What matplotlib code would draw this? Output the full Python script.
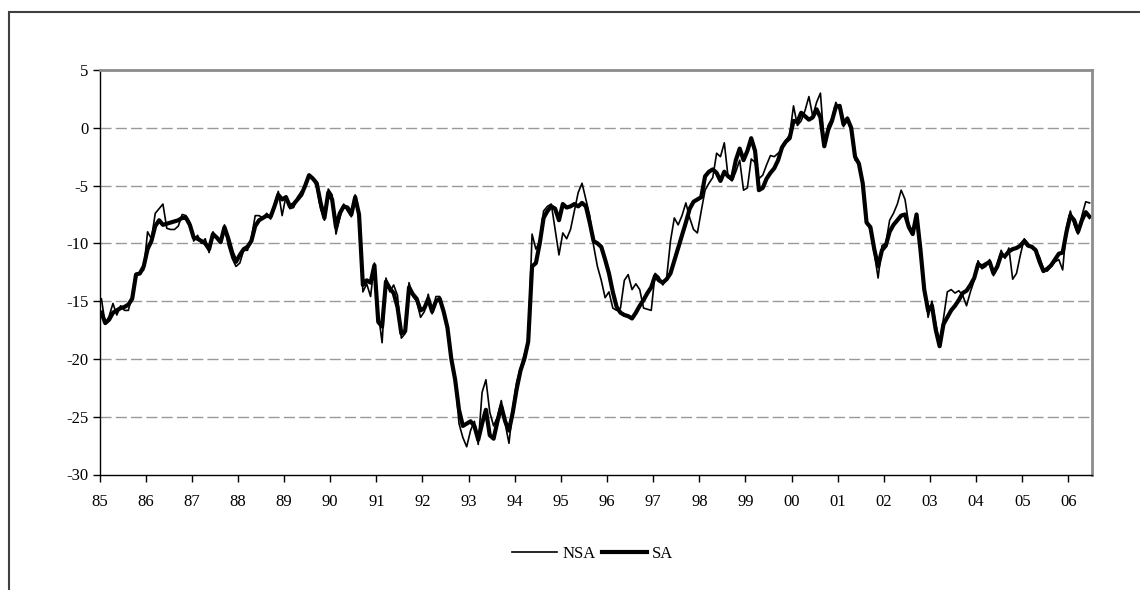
import numpy as np
import matplotlib
matplotlib.use("Agg")
import matplotlib.pyplot as plt
from matplotlib.patches import Rectangle

plt.rcParams["font.family"] = ["Liberation Serif", "DejaVu Serif"]
plt.rcParams["axes.unicode_minus"] = False

# monthly values, Jan 1985 .. Jun 2006
sa_by_year = {
    1985: [-16.0, -16.9, -16.6, -16.0, -15.8, -15.6, -15.5, -15.3, -14.8, -12.7, -12.6, -12.0],
    1986: [-10.5, -9.8, -8.5, -8.0, -8.4, -8.3, -8.2, -8.1, -8.0, -7.8, -7.8, -8.4],
    1987: [-9.5, -9.6, -9.8, -10.0, -10.5, -9.2, -9.5, -9.9, -8.6, -9.6, -10.8, -11.6],
    1988: [-11.0, -10.5, -10.3, -9.8, -8.5, -8.0, -7.8, -7.6, -7.7, -6.8, -5.8, -6.2],
    1989: [-6.0, -6.8, -6.6, -6.2, -5.8, -5.0, -4.1, -4.4, -4.8, -6.5, -7.8, -5.6],
    1990: [-6.2, -8.6, -7.4, -6.8, -6.9, -7.5, -6.0, -7.5, -13.6, -13.2, -13.4, -11.9],
    1991: [-16.8, -17.2, -13.3, -13.9, -14.3, -15.5, -17.8, -17.6, -13.8, -14.4, -14.8, -15.8],
    1992: [-15.6, -14.8, -15.9, -15.0, -14.8, -15.9, -17.3, -20.0, -21.8, -24.4, -25.8, -25.6],
    1993: [-25.4, -25.8, -27.0, -25.6, -24.4, -26.6, -26.9, -25.4, -24.1, -25.4, -26.2, -24.6],
    1994: [-22.6, -21.0, -20.0, -18.5, -12.0, -11.7, -10.0, -7.8, -7.2, -6.8, -7.0, -8.0],
    1995: [-6.6, -6.9, -6.8, -6.6, -6.8, -6.5, -6.8, -8.2, -9.8, -10.0, -10.3, -11.4],
    1996: [-12.6, -14.2, -15.5, -16.0, -16.2, -16.3, -16.5, -16.0, -15.4, -14.9, -14.3, -13.8],
    1997: [-12.8, -13.2, -13.4, -13.1, -12.6, -11.5, -10.4, -9.3, -8.2, -7.0, -6.4, -6.2],
    1998: [-6.0, -4.2, -3.8, -3.6, -3.9, -4.6, -3.8, -4.2, -4.4, -2.8, -1.8, -2.8],
    1999: [-2.0, -0.9, -2.0, -5.4, -5.2, -4.4, -3.9, -3.5, -2.8, -1.7, -1.2, -0.9],
    2000: [0.6, 0.5, 1.3, 1.0, 0.7, 0.9, 1.6, 0.9, -1.6, -0.2, 0.6, 1.8],
    2001: [1.9, 0.3, 0.8, 0.0, -2.5, -3.1, -4.8, -8.2, -8.6, -10.5, -12.0, -10.6],
    2002: [-10.2, -9.0, -8.4, -8.0, -7.6, -7.5, -8.6, -9.2, -7.5, -10.5, -14.0, -15.8],
    2003: [-15.4, -17.5, -18.9, -17.0, -16.4, -15.8, -15.4, -14.9, -14.3, -14.1, -13.6, -13.0],
    2004: [-11.8, -12.0, -11.8, -11.6, -12.6, -12.0, -11.0, -11.1, -10.7, -10.5, -10.4, -10.2],
    2005: [-9.8, -10.2, -10.3, -10.6, -11.6, -12.4, -12.2, -11.9, -11.4, -10.9, -10.8, -9.0],
    2006: [-7.6, -8.0, -9.0, -8.0, -7.3, -7.7],
}
nsa_by_year = {
    1985: [-14.8, -17.0, -16.3, -15.2, -16.2, -15.4, -15.8, -15.8, -14.5, -12.6, -12.6, -12.3],
    1986: [-9.0, -9.6, -7.4, -7.0, -6.6, -8.7, -8.8, -8.8, -8.5, -7.5, -7.6, -8.2],
    1987: [-9.8, -9.3, -10.0, -9.6, -10.8, -9.0, -9.6, -9.8, -8.4, -10.2, -11.3, -12.0],
    1988: [-11.7, -10.6, -10.6, -9.5, -7.6, -7.6, -7.8, -7.4, -7.9, -6.6, -5.5, -7.6],
    1989: [-5.9, -7.0, -6.9, -6.0, -5.5, -5.2, -4.2, -4.3, -5.2, -7.0, -8.0, -5.3],
    1990: [-5.8, -9.2, -7.8, -6.6, -7.2, -7.7, -5.8, -7.6, -14.2, -13.5, -14.6, -11.7],
    1991: [-16.0, -18.6, -13.0, -14.2, -13.6, -14.5, -18.2, -17.8, -13.4, -14.6, -15.0, -16.4],
    1992: [-15.9, -14.4, -16.1, -14.6, -14.6, -15.8, -17.2, -19.8, -21.6, -25.6, -26.8, -27.6],
    1993: [-26.2, -25.4, -27.4, -22.9, -21.8, -24.6, -25.8, -25.0, -23.6, -25.6, -27.3, -24.2],
    1994: [-22.0, -20.8, -19.6, -18.8, -9.2, -10.5, -9.8, -7.2, -6.8, -6.6, -8.8, -11.0],
    1995: [-9.1, -9.6, -8.8, -7.2, -5.6, -4.8, -6.2, -7.6, -10.2, -12.0, -13.2, -14.7],
    1996: [-14.2, -15.6, -15.8, -15.6, -13.2, -12.7, -14.0, -13.5, -14.0, -15.6, -15.7, -15.8],
    1997: [-12.6, -12.9, -13.6, -13.0, -9.8, -7.8, -8.4, -7.6, -6.5, -7.8, -8.8, -9.1],
    1998: [-7.2, -5.4, -4.8, -4.3, -2.2, -2.5, -1.3, -4.3, -4.6, -3.8, -2.8, -5.4],
    1999: [-5.2, -2.7, -3.0, -4.4, -4.1, -3.2, -2.4, -2.5, -2.2, -1.9, -1.1, -0.6],
    2000: [1.9, 0.2, 0.6, 1.5, 2.7, 1.0, 2.2, 3.0, -1.4, 0.2, 0.8, 2.2],
    2001: [1.6, 0.1, 0.9, -0.3, -2.8, -3.0, -5.0, -8.0, -8.9, -10.8, -13.0, -10.2],
    2002: [-10.0, -8.0, -7.4, -6.6, -5.4, -6.2, -8.4, -9.0, -7.6, -10.8, -13.6, -16.4],
    2003: [-15.0, -17.0, -18.6, -16.5, -14.2, -14.0, -14.3, -14.1, -14.5, -15.4, -14.2, -13.2],
    2004: [-11.5, -12.2, -12.0, -11.4, -12.8, -11.8, -10.6, -11.3, -10.4, -13.1, -12.6, -11.0],
    2005: [-9.6, -10.0, -10.4, -10.6, -11.2, -12.2, -12.4, -12.0, -11.6, -11.4, -12.3, -8.6],
    2006: [-7.2, -8.4, -9.2, -7.6, -6.4, -6.5],
}
year_labels = ["85", "86", "87", "88", "89", "90", "91", "92", "93", "94", "95",
               "96", "97", "98", "99", "00", "01", "02", "03", "04", "05", "06"]

sa = np.concatenate([sa_by_year[y] for y in sorted(sa_by_year)])
nsa = np.concatenate([nsa_by_year[y] for y in sorted(nsa_by_year)])
n = len(sa)
t = 1985 + (np.arange(n) + 0.5) / 12  # category centres

fig = plt.figure(figsize=(11.4, 5.9), dpi=100)
W, H = 1140, 590
ax = fig.add_axes([99.5 / W, 1 - 474.5 / H, (1091.5 - 99.5) / W, (474.5 - 70) / H])

ax.plot(t, nsa, color="black", lw=1.2, label="NSA")
ax.plot(t, sa, color="black", lw=3.0, label="SA")

ax.set_xlim(1985, 1985 + n / 12)
ax.set_ylim(-30, 5)
ax.set_yticks(range(-30, 6, 5))
ax.set_xticks(np.arange(1985, 1985 + len(year_labels)))
ax.set_xticklabels(year_labels)
for v in range(-25, 5, 5):
    ax.axhline(v, color="#999999", lw=1, dashes=(8, 3), zorder=0)

ax.tick_params(axis="both", labelsize=12, direction="out", length=5, width=1, color="black")
ax.tick_params(axis="y", pad=3)
ax.tick_params(axis="x", pad=9)
for s in ("top", "right"):
    ax.spines[s].set_color("#8c8c8c")
    ax.spines[s].set_linewidth(2)
for s in ("left", "bottom"):
    ax.spines[s].set_color("black")
    ax.spines[s].set_linewidth(1)

fig.legend(loc="center", bbox_to_anchor=(593 / W, 1 - 554 / H), ncol=2, frameon=False,
           fontsize=12, handlelength=2.7, handletextpad=0.3, columnspacing=0.4)

# outer chart border (runs off the right and bottom edges)
fig.patches.append(Rectangle((9 / W, -0.1), 1.2, (H - 12) / H + 0.1, transform=fig.transFigure,
                             fill=False, edgecolor="#404040", lw=1.5))

fig.savefig("out.png", dpi=100)
